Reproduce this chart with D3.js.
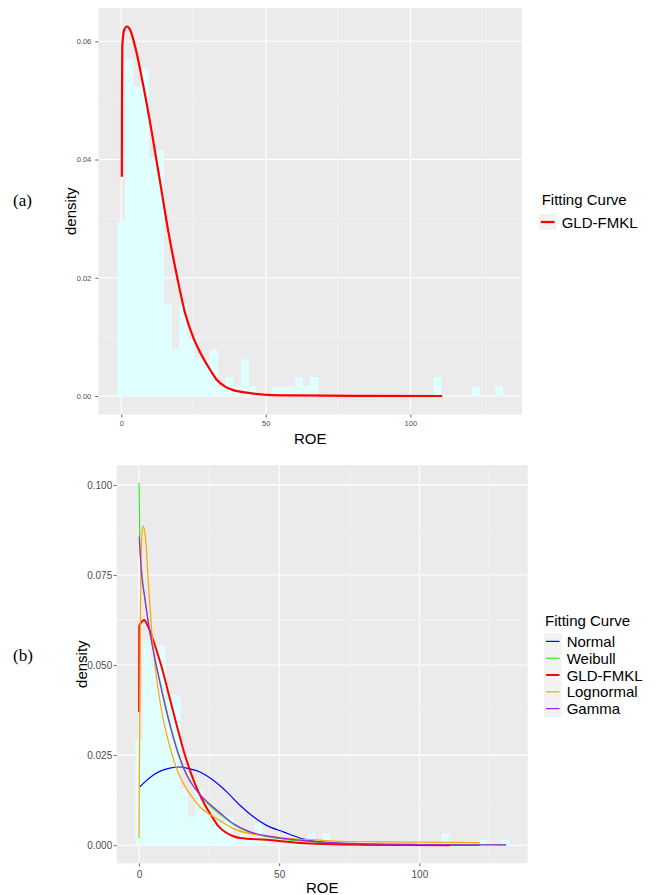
<!DOCTYPE html>
<html>
<head>
<meta charset="utf-8">
<script src="https://cdn.jsdelivr.net/npm/d3@7"></script>
<style>
  body { margin: 0; background: #fff; }
  svg text { font-family: "Liberation Sans", Arial, sans-serif; }
</style>
</head>
<body>
<svg id="chart"></svg>
<script>
// ROE histogram, density per bin (equal-width bins starting at binStart)
const binStart = -1.28;
const binWidth = 2.665;
const histDensity = [
  0.0295, 0.0570, 0.0523, 0.0554, 0.0404, 0.0416, 0.0156, 0.0079, 0.0156, 0.0096,
  0.0064, 0.0062, 0.0078, 0.0016, 0.0032, 0.0016, 0.0062, 0.0016, 0, 0,
  0.0016, 0.0016, 0.0016, 0.0032, 0.0017, 0.0032, 0, 0, 0, 0,
  0, 0, 0, 0, 0, 0, 0, 0, 0, 0,
  0, 0.0032, 0, 0, 0, 0, 0.0016, 0, 0, 0.0016
];

// fitted curves, [ROE, density]
const gldTop = [
  [0.2, 0.0371], [0.25, 0.0500], [0.35, 0.0591], [1.0, 0.0619], [2.0, 0.0625],
  [3.1, 0.0619], [4.8, 0.0591], [7.7, 0.0523], [10.6, 0.0445], [13.5, 0.0360],
  [16.4, 0.0275], [19.3, 0.0202], [22.1, 0.0140], [25.0, 0.0098], [27.5, 0.0072],
  [30.8, 0.0044], [33.1, 0.0027], [35.9, 0.0016], [38.8, 0.0010], [44.6, 0.0005],
  [50.4, 0.0002], [62, 0.0001], [80, 0.00003], [111, 0]
];
const normalFit = [
  [0.2, 0.0161], [5.0, 0.0194], [8.0, 0.0207], [11, 0.0214], [14.5, 0.0217],
  [18, 0.0212], [21.75, 0.0203], [26.5, 0.0180], [31.3, 0.0148], [36.0, 0.0111],
  [40.8, 0.0079], [45.5, 0.0055], [51.5, 0.0037], [57.4, 0.0020], [64.5, 0.0009],
  [72, 0.0004], [85, 0.0001], [121.6, 0]
];
const weibullFit = [
  [0.03, 0.1005], [0.3, 0.0840], [1.0, 0.0760], [2.0, 0.0690], [3.5, 0.0608],
  [5.0, 0.0545], [7.96, 0.0440], [10.9, 0.0342], [13.9, 0.0260], [16.9, 0.0198],
  [19.9, 0.0158], [22.8, 0.0130], [25.8, 0.0106], [28.9, 0.0086], [33.6, 0.0058],
  [39.6, 0.0035], [45.5, 0.0024], [51.5, 0.0017], [57.4, 0.0012], [64.5, 0.0008],
  [80, 0.0004], [100, 0.0002], [131, 0.0001]
];
const gldBottom = [
  [0.05, 0.0369], [0.1, 0.0608], [0.8, 0.0618], [1.8, 0.0625], [3.2, 0.0608],
  [5.0, 0.0571], [7.96, 0.0498], [10.9, 0.0410], [13.9, 0.0320], [16.0, 0.0260],
  [18.0, 0.0212], [20.0, 0.0170], [22.0, 0.0135], [24.0, 0.0105], [26.0, 0.0080],
  [28.0, 0.0056], [30.5, 0.0038], [33.0, 0.0027], [36.0, 0.0020], [45.5, 0.0015],
  [57.4, 0.0006], [66, 0.0003], [80, 0.0001], [110.9, 0]
];
const lognormalFit = [
  [0.02, 0.0019], [0.15, 0.0200], [0.4, 0.0550], [0.8, 0.0800], [1.2, 0.0878],
  [1.5, 0.0886], [2.0, 0.0872], [2.6, 0.0830], [3.2, 0.0747], [4.4, 0.0608],
  [5.6, 0.0507], [7.96, 0.0378], [10.9, 0.0276], [13.9, 0.0203], [16.9, 0.0157],
  [19.9, 0.0124], [21.75, 0.0106], [25.8, 0.0083], [27.7, 0.0074], [33.6, 0.0046],
  [39.6, 0.0032], [45.5, 0.0026], [52.7, 0.0019], [64.5, 0.0014], [72, 0.0011],
  [90, 0.0009], [121.6, 0.0007]
];
const gammaFit = [
  [0.05, 0.0857], [1.0, 0.0745], [2.0, 0.0691], [3.5, 0.0610], [5.0, 0.0544],
  [7.96, 0.0433], [10.9, 0.0337], [13.9, 0.0256], [16.9, 0.0196], [19.9, 0.0158],
  [22.8, 0.0132], [25.8, 0.0110], [28.9, 0.0090], [33.6, 0.0060], [39.6, 0.0037],
  [45.5, 0.0026], [51.5, 0.0019], [57.4, 0.0014], [64.5, 0.0009], [80, 0.0004],
  [100, 0.0002], [130.9, 0.0001]
];

const curveNames = ["Normal", "Weibull", "GLD-FMKL", "Lognormal", "Gamma"];
const curveColors = ["#0000ff", "#22ee22", "#ff0000", "#ffa500", "#a020f0"];
const xTicks = [0, 50, 100];
const xMinor = [25, 75, 125];
const yTicksTop = [0, 0.02, 0.04, 0.06];
const yMinorTop = [0.01, 0.03, 0.05];
const yTicksBottom = [0, 0.025, 0.05, 0.075, 0.1];
const yMinorBottom = [0.0125, 0.0375, 0.0625, 0.0875];

const width = 658, height = 895;
const svg = d3.select("#chart").attr("width", width).attr("height", height);
svg.append("rect").attr("width", width).attr("height", height).attr("fill", "#fff");

const bins = histDensity.map((d, i) => ({ x0: binStart + i * binWidth, x1: binStart + (i + 1) * binWidth, d: d }));
const xLo = bins[0].x0, xHi = bins[bins.length - 1].x1;
const xPad = (xHi - xLo) * 0.05;

function drawPanel(opts) {
  const x = d3.scaleLinear().domain([xLo - xPad, xHi + xPad]).range([opts.left, opts.right]);
  const yMax = d3.max(opts.series.map(s => d3.max(s.data, d => d[1])).concat(histDensity));
  const y = d3.scaleLinear().domain([-yMax * 0.05, yMax * 1.05]).range([opts.bottom, opts.top]);

  const g = svg.append("g");

  g.append("rect")
    .attr("x", opts.left).attr("y", opts.top)
    .attr("width", opts.right - opts.left).attr("height", opts.bottom - opts.top)
    .attr("fill", "#ebebeb");

  // grid
  g.selectAll(".xminor").data(xMinor).join("line")
    .attr("x1", d => x(d)).attr("x2", d => x(d)).attr("y1", opts.top).attr("y2", opts.bottom)
    .attr("stroke", "#f7f7f7").attr("stroke-width", 0.6);
  g.selectAll(".yminor").data(opts.yMinor).join("line")
    .attr("y1", d => y(d)).attr("y2", d => y(d)).attr("x1", opts.left).attr("x2", opts.right)
    .attr("stroke", "#f7f7f7").attr("stroke-width", 0.6);
  g.selectAll(".xmajor").data(xTicks).join("line")
    .attr("x1", d => x(d)).attr("x2", d => x(d)).attr("y1", opts.top).attr("y2", opts.bottom)
    .attr("stroke", "#fff").attr("stroke-width", 1.1);
  g.selectAll(".ymajor").data(opts.yTicks).join("line")
    .attr("y1", d => y(d)).attr("y2", d => y(d)).attr("x1", opts.left).attr("x2", opts.right)
    .attr("stroke", "#fff").attr("stroke-width", 1.1);

  // histogram
  g.selectAll(".bar").data(bins.filter(b => b.d > 0)).join("rect")
    .attr("x", b => x(b.x0))
    .attr("width", b => x(b.x1) - x(b.x0) + 0.3)
    .attr("y", b => y(b.d))
    .attr("height", b => y(0) - y(b.d))
    .attr("fill", "#e0ffff");

  // fitted curves
  const line = d3.line().x(d => x(d[0])).y(d => y(d[1])).curve(d3.curveMonotoneX);
  opts.series.forEach(s => {
    g.append("path")
      .attr("d", line(s.data))
      .attr("fill", "none")
      .attr("stroke", s.color)
      .attr("stroke-width", s.width)
      .attr("stroke-linejoin", "round");
  });

  // axes
  const ax = g.append("g").attr("transform", "translate(0," + opts.bottom + ")")
    .call(d3.axisBottom(x).tickValues(xTicks).tickSize(3).tickPadding(opts.xPadTick).tickFormat(d3.format("d")));
  const ay = g.append("g").attr("transform", "translate(" + opts.left + ",0)")
    .call(d3.axisLeft(y).tickValues(opts.yTicks).tickSize(3).tickPadding(opts.yPadTick).tickFormat(d3.format(opts.yFormat)));
  [ax, ay].forEach(a => {
    a.select(".domain").remove();
    a.selectAll(".tick line").attr("stroke", "#444").attr("stroke-width", 0.8);
    a.selectAll(".tick text").attr("fill", "#4d4d4d").style("font-size", opts.tickFont + "px")
      .style("font-family", "'Liberation Sans', Arial, sans-serif");
  });

  // titles
  g.append("text")
    .attr("transform", "translate(" + opts.yTitleX + "," + ((opts.top + opts.bottom) / 2) + ") rotate(-90)")
    .attr("text-anchor", "middle").attr("dominant-baseline", "central")
    .style("font-size", "15px").attr("fill", "#000")
    .text("density");
  g.append("text")
    .attr("x", (opts.left + opts.right) / 2).attr("y", opts.xTitleY)
    .attr("text-anchor", "middle")
    .style("font-size", "15px").attr("fill", "#000")
    .text("ROE");

  // legend
  const lg = g.append("g");
  lg.append("text").attr("x", opts.legend.x).attr("y", opts.legend.titleY)
    .style("font-size", "15px").attr("fill", "#000").text("Fitting Curve");
  lg.append("rect")
    .attr("x", opts.legend.keyX).attr("y", opts.legend.keyY)
    .attr("width", 17.5).attr("height", opts.series.length * opts.legend.step)
    .attr("fill", "#f2f2f2");
  opts.legendOrder.forEach((s, i) => {
    const cy = opts.legend.keyY + opts.legend.step * (i + 0.5);
    lg.append("line")
      .attr("x1", opts.legend.keyX + 2).attr("x2", opts.legend.keyX + 15.5)
      .attr("y1", cy).attr("y2", cy)
      .attr("stroke", s.color).attr("stroke-width", s.width);
    lg.append("text").attr("x", opts.legend.labelX).attr("y", cy)
      .attr("dominant-baseline", "central")
      .style("font-size", "15px").attr("fill", "#000").text(s.name);
  });

  // panel tag
  svg.append("text").attr("x", 13).attr("y", opts.tagY)
    .attr("dominant-baseline", "central")
    .style("font-family", "'Liberation Serif', 'Times New Roman', serif")
    .style("font-size", "17px").attr("fill", "#000")
    .text(opts.tag);
}

// (a) GLD-FMKL only
const topSeries = [{ name: "GLD-FMKL", data: gldTop, color: curveColors[2], width: 2.2 }];
drawPanel({
  left: 98.3, right: 522, top: 8, bottom: 414.5,
  series: topSeries, legendOrder: topSeries,
  yTicks: yTicksTop, yMinor: yMinorTop, yFormat: ".2f",
  tickFont: 7.5, xPadTick: 3.5, yPadTick: 4,
  yTitleX: 70, xTitleY: 444,
  legend: { x: 541.7, titleY: 205, keyX: 539, keyY: 214, step: 16, labelX: 561.7 },
  tag: "(a)", tagY: 200
});

// (b) all five fits
const fits = [normalFit, weibullFit, gldBottom, lognormalFit, gammaFit];
const bottomSeries = curveNames.map((n, i) => ({
  name: n, data: fits[i], color: curveColors[i], width: n === "GLD-FMKL" ? 2 : 1.2
}));
drawPanel({
  left: 116.7, right: 527.7, top: 465, bottom: 863.3,
  series: bottomSeries, legendOrder: bottomSeries,
  yTicks: yTicksBottom, yMinor: yMinorBottom, yFormat: ".3f",
  tickFont: 10, xPadTick: 4.5, yPadTick: 1.5,
  yTitleX: 81, xTitleY: 893,
  legend: { x: 545, titleY: 626, keyX: 544, keyY: 633, step: 16.8, labelX: 566.7 },
  tag: "(b)", tagY: 655
});
</script>
</body>
</html>
